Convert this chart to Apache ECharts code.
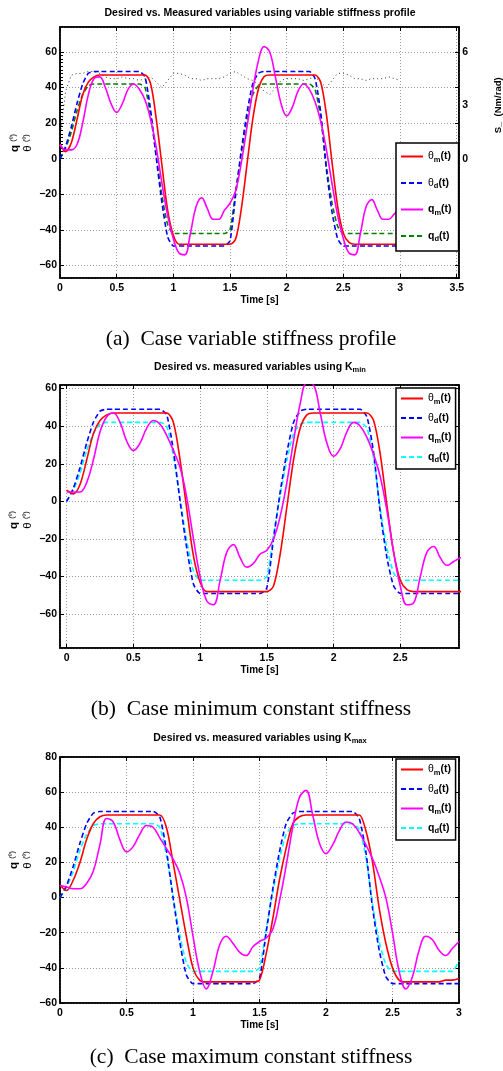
<!DOCTYPE html>
<html><head><meta charset="utf-8">
<script src="https://cdn.jsdelivr.net/npm/echarts@6/dist/echarts.min.js"></script>
<style>html,body{margin:0;padding:0;background:#fff}#c{width:503px;height:1071px}</style>
</head><body><div id="c"></div>
<script>
// time base (s)
const T = [0,0.05,0.1,0.15,0.2,0.25,0.3,0.35,0.4,0.45,0.5,0.55,0.6,0.65,0.7,0.75,0.8,0.85,0.9,0.95,1,1.05,1.1,1.15,1.2,1.25,1.3,1.35,1.4,1.45,1.5,1.55,1.6,1.65,1.7,1.75,1.8,1.85,1.9,1.95,2,2.05,2.1,2.15,2.2,2.25,2.3,2.35,2.4,2.45,2.5,2.55,2.6,2.65,2.7,2.75,2.8,2.85,2.9,2.95,3];

// (a) variable stiffness profile
const A_thetaM = [8,4,9,22,36,43,46,47,47,47, 47,47,47,47,47,47,42,22,-4,-29, -43,-48,-48,-48,-48,-48,-48,-48,-48,-48, -48,-45,-28,-3,22,39,46,47,47,47, 47,47,47,47,47,47,43,25,-2,-27, -42,-47,-48,-48,-48,-48,-48,-48,-48,-48, -48];
const A_thetaD = [0,7,18,31,42,48,49,49,49,49, 49,49,49,49,49,46,27,0,-25,-44, -49,-49,-49,-49,-49,-49,-49,-49,-49,-49, -46,-20,5,26,42,48,49,49,49,49, 49,49,49,49,49,45,26,-6,-30,-45, -49,-49,-49,-49,-49,-49,-49,-49,-49,-49, -49];
const A_qM = [8,5,5,8,20,36,45,46,40,31, 26,31,39,42,39,33,22,6,-14,-32, -45,-53,-54,-42,-27,-22,-28,-34,-34,-29, -25,-18,-2,18,38,55,63,60,46,31, 24,29,38,42,39,32,21,5,-14,-32, -45,-53,-54,-42,-27,-23,-29,-34,-34,-31, -28];
const A_qD = [0,6,15,27,36,41,42,42,42,42, 42,42,42,42,42,40,24,1,-21,-37, -42,-42,-42,-42,-42,-42,-42,-42,-42,-42, -40,-18,3,22,36,41,42,42,42,42, 42,42,42,42,42,39,23,-4,-25,-38, -42,-42,-42,-42,-42,-42,-42,-42,-42,-42, -42];
const A_S = [1.2,3.8,4.7,4.8,4.8,4.9,4.9,4.8,4.6,4.5, 4.5,4.6,4.5,4.5,4.4,4.5,4.6,4.3,4.0,4.4, 4.8,4.8,4.7,4.5,4.5,4.4,4.5,4.5,4.5,4.6, 4.8,4.9,4.7,4.5,4.4,4.2,3.8,3.6,4.0,4.4, 4.5,4.5,4.5,4.4,4.5,4.6,4.3,4.0,4.4,4.8, 4.8,4.7,4.5,4.5,4.4,4.5,4.5,4.5,4.6,4.5, 4.4];

// (b) minimum constant stiffness
const B_thetaM = [6,4,9,22,36,43,46,47,47,47, 47,47,47,47,47,47,42,22,-4,-29, -43,-48,-48,-48,-48,-48,-48,-48,-48,-48, -48,-45,-28,-3,22,39,46,47,47,47, 47,47,47,47,47,47,43,25,-2,-27, -42,-47,-48,-48,-48,-48,-48,-48,-48,-48, -47];
const B_thetaD = [0,7,18,31,42,48,49,49,49,49, 49,49,49,49,49,46,27,0,-25,-44, -49,-49,-49,-49,-49,-49,-49,-49,-49,-49, -46,-20,5,26,42,48,49,49,49,49, 49,49,49,49,49,45,26,-6,-30,-45, -49,-49,-49,-49,-49,-49,-49,-49,-49,-49, -49];
const B_qM = [5,5,5,10,22,37,45,47,42,32, 27,31,39,43,41,35,27,18,2,-20, -40,-53,-55,-42,-27,-23,-30,-35,-33,-28, -26,-20,-8,10,32,52,63,62,47,31, 24,28,37,42,40,34,25,13,-5,-27, -45,-55,-54,-40,-27,-24,-30,-34,-32,-30, -29];
const B_qD = [0,6,15,27,36,41,42,42,42,42, 42,42,42,42,42,40,24,1,-21,-37, -42,-42,-42,-42,-42,-42,-42,-42,-42,-42, -40,-18,3,22,36,41,42,42,42,42, 42,42,42,42,42,39,23,-4,-25,-38, -42,-42,-42,-42,-42,-42,-42,-42,-42,-42, -42];

// (c) maximum constant stiffness
const C_thetaM = [7,4,10,20,33,42,46,47,47,47, 47,47,47,47,47,47,40,20,-1,-22, -40,-47,-48,-48,-48,-48,-48,-48,-48,-48, -47,-32,-12,10,28,42,46,47,47,47, 47,47,47,47,47,47,38,20,-6,-26, -40,-47,-48,-48,-48,-48,-48,-48,-47,-47, -46];
const C_thetaD = [0,7,18,31,42,48,49,49,49,49, 49,49,49,49,49,46,27,0,-25,-44, -49,-49,-49,-49,-49,-49,-49,-49,-49,-49, -46,-20,5,26,42,48,49,49,49,49, 49,49,49,49,49,45,26,-6,-30,-45, -49,-49,-49,-49,-49,-49,-49,-49,-49,-49, -49];
const C_qM = [7,6,5,5,8,15,30,45,43,33, 26,29,36,41,40,34,28,22,14,0, -22,-42,-52,-42,-27,-22,-26,-31,-33,-28, -25,-23,-18,-2,18,40,57,61,47,31, 25,30,38,43,42,37,30,22,12,0, -20,-42,-52,-45,-30,-22,-24,-30,-33,-29, -25];
const C_qD = [0,6,15,27,36,41,42,42,42,42, 42,42,42,42,42,40,24,1,-21,-37, -42,-42,-42,-42,-42,-42,-42,-42,-42,-42, -40,-18,3,22,36,41,42,42,42,42, 42,42,42,42,42,39,23,-4,-25,-38, -42,-42,-42,-42,-42,-42,-42,-42,-42,-42, -36];

const TITLES = ['Desired vs. Measured variables using variable stiffness profile',
  'Desired vs. measured variables using {k|K}{ks|min}',
  'Desired vs. measured variables using {k|K}{ks|max}'];
const CAPTIONS = ['(a)  Case variable stiffness profile', '(b)  Case minimum constant stiffness', '(c)  Case maximum constant stiffness'];
const X_NAME = 'Time [s]';
const S_NAME = 'S_  (Nm/rad)';

const FONT = '"Liberation Sans", Arial, Helvetica, sans-serif';
const SERIF = '"Liberation Serif", "Times New Roman", serif';
const LEG = {
  thm: '{g|θ}{s|m}{n|(t)}', thd: '{g|θ}{s|d}{n|(t)}', qm: '{n|q}{s|m}{n|(t)}', qd: '{n|q}{s|d}{n|(t)}'
};
const legRich = {
  n: {fontFamily: FONT, fontWeight: 'bold', fontSize: 10.5, color: '#000', lineHeight: 14},
  g: {fontFamily: FONT, fontWeight: 'normal', fontSize: 10.5, color: '#000', lineHeight: 14},
  s: {fontFamily: FONT, fontWeight: 'bold', fontSize: 7.5, color: '#000', verticalAlign: 'bottom', lineHeight: 9}
};

const fmt = v => { if (Math.abs(v) < 1e-9) return '0'; return String(+v.toFixed(2)).replace('-', '−'); };
const splitStyle = {show: true, lineStyle: {type: [1, 2], color: '#9a9a9a', width: 1}};

function xMain(gi, min, max, extra) {
  return Object.assign({
    gridIndex: gi, type: 'value', min: min, max: max, position: 'bottom',
    axisLine: {show: true, onZero: false, lineStyle: {color: '#000', width: 1.5}},
    axisTick: {show: true, inside: true, length: 4, lineStyle: {color: '#000', width: 1}},
    axisLabel: {color: '#000', fontFamily: FONT, fontWeight: 'bold', fontSize: 10.5, margin: 5,
      showMinLabel: true, showMaxLabel: false, formatter: fmt},
    splitLine: splitStyle,
    name: X_NAME, nameLocation: 'middle', nameGap: 16,
    nameTextStyle: {color: '#000', fontFamily: FONT, fontWeight: 'bold', fontSize: 10}
  }, extra || {});
}
function xMirror(gi, min, max, extra) {
  return Object.assign({
    gridIndex: gi, type: 'value', min: min, max: max, position: 'top',
    axisLine: {show: true, onZero: false, lineStyle: {color: '#000', width: 1.5}},
    axisTick: {show: true, inside: true, length: 4, lineStyle: {color: '#000'}},
    axisLabel: {show: false}, splitLine: {show: false}
  }, extra || {});
}
function yMain(gi, min, max, extra) {
  return Object.assign({
    gridIndex: gi, type: 'value', min: min, max: max, position: 'left',
    axisLine: {show: true, onZero: false, lineStyle: {color: '#000', width: 1.5}},
    axisTick: {show: true, inside: true, length: 4, lineStyle: {color: '#000'}},
    axisLabel: {color: '#000', fontFamily: FONT, fontWeight: 'bold', fontSize: 10.5, margin: 3,
      showMinLabel: false, showMaxLabel: false, formatter: fmt},
    splitLine: splitStyle
  }, extra || {});
}
function yMirror(gi, min, max, extra) {
  return Object.assign({
    gridIndex: gi, type: 'value', min: min, max: max, position: 'right',
    axisLine: {show: true, onZero: false, lineStyle: {color: '#000', width: 1.5}},
    axisTick: {show: true, inside: true, length: 4, lineStyle: {color: '#000'}},
    axisLabel: {show: false}, splitLine: {show: false}
  }, extra || {});
}
function pairs(arr) { return T.map((t, i) => [t, arr[i]]); }
function ln(name, xi, yi, arr, color, dash, smooth) {
  return {
    name: name, type: 'line', xAxisIndex: xi, yAxisIndex: yi, data: pairs(arr),
    symbol: 'none', showSymbol: false, smooth: smooth, animation: false, clip: true,
    lineStyle: {color: color, width: 1.6, type: dash ? [5, 3] : 'solid'},
    itemStyle: {color: color}, emphasis: {disabled: true}
  };
}
function legend(prefix, left, top, gap, pad) {
  return {
    data: ['thm', 'thd', 'qm', 'qd'].map(k => prefix + k),
    orient: 'vertical', left: left, top: top, itemWidth: 22, itemHeight: 12, itemGap: gap,
    padding: pad, backgroundColor: '#fff', borderColor: '#000', borderWidth: 1.5, borderRadius: 0,
    selectedMode: false, formatter: n => LEG[n.slice(prefix.length)],
    itemStyle: {opacity: 0, borderWidth: 0},
    textStyle: {rich: legRich, fontFamily: FONT}
  };
}
const yNameRich = {
  b: {fontFamily: FONT, fontWeight: 'bold', fontSize: 11.5, color: '#000'},
  r: {fontFamily: FONT, fontWeight: 'normal', fontSize: 11.5, color: '#000'},
  p: {fontFamily: FONT, fontWeight: 'normal', fontSize: 7.5, color: '#000', verticalAlign: 'top'}
};
function yName(x, y, txt) {
  return {type: 'text', x: x, y: y, rotation: Math.PI / 2,
    style: {text: txt, rich: yNameRich, align: 'center', verticalAlign: 'middle', fill: '#000'}};
}

const titleRich = {
  k: {fontFamily: FONT, fontWeight: 'bold', fontSize: 10.5, color: '#000'},
  ks: {fontFamily: FONT, fontWeight: 'bold', fontSize: 7.5, color: '#000', verticalAlign: 'bottom', padding: [6, 0, 0, 0]}
};
function title(txt, left, top) {
  return {text: txt, left: left, top: top, textAlign: 'center', padding: 0,
    textStyle: {color: '#000', fontFamily: FONT, fontWeight: 'bold', fontSize: 10.5, rich: titleRich}};
}
function caption(txt, top) {
  return {text: txt, left: 251, top: top, textAlign: 'center', padding: 0,
    textStyle: {color: '#000', fontFamily: SERIF, fontWeight: 'normal', fontSize: 21.5}};
}

const option = {
  backgroundColor: '#fff',
  animation: false,
  title: [
    title(TITLES[0], 260, 8), title(TITLES[1], 260, 360), title(TITLES[2], 260, 731),
    caption(CAPTIONS[0], 328), caption(CAPTIONS[1], 698), caption(CAPTIONS[2], 1046)
  ],
  grid: [
    {left: 60, right: 44, top: 27, height: 251, show: true, borderColor: '#000', borderWidth: 1.5, outerBoundsMode: 'none', containLabel: false},
    {left: 60, right: 44, top: 385, height: 263, show: true, borderColor: '#000', borderWidth: 1.5, outerBoundsMode: 'none', containLabel: false},
    {left: 60, right: 44, top: 757, height: 246, show: true, borderColor: '#000', borderWidth: 1.5, outerBoundsMode: 'none', containLabel: false},
    {left: 60, right: 44, top: 52, height: 106.7, show: false, outerBoundsMode: 'none', containLabel: false}
  ],
  xAxis: [
    xMain(0, 0, 3.52, {interval: 0.5}), xMirror(0, 0, 3.52, {interval: 0.5}),
    xMain(1, -0.05, 2.94, {splitNumber: 6, axisLabel: {color: '#000', fontFamily: FONT, fontWeight: 'bold', fontSize: 10.5, margin: 5, showMinLabel: false, showMaxLabel: false, formatter: fmt}}),
    xMirror(1, -0.05, 2.94, {splitNumber: 6}),
    xMain(2, 0, 3, {interval: 0.5, axisLabel: {color: '#000', fontFamily: FONT, fontWeight: 'bold', fontSize: 10.5, margin: 5, showMaxLabel: true, formatter: fmt}}),
    xMirror(2, 0, 3, {interval: 0.5}),
    {gridIndex: 3, type: 'value', min: 0, max: 3.52, show: false}
  ],
  yAxis: [
    yMain(0, -67, 74, {splitNumber: 7}), yMirror(0, -67, 74, {splitNumber: 7}),
    yMain(1, -78, 61.9, {splitNumber: 7}), yMirror(1, -78, 61.9, {splitNumber: 7}),
    yMain(2, -60, 80, {interval: 20, axisLabel: {color: '#000', fontFamily: FONT, fontWeight: 'bold', fontSize: 10.5, margin: 3, showMinLabel: true, showMaxLabel: true, formatter: fmt}}),
    yMirror(2, -60, 80, {interval: 20}),
    {gridIndex: 3, type: 'value', position: 'right', offset: 13, min: 0, max: 6, interval: 3,
      axisLine: {show: true, lineStyle: {color: '#000', width: 1}},
      axisTick: {show: true, inside: false, length: 4, lineStyle: {color: '#000'}},
      minorTick: {show: true, splitNumber: 15, length: 3, lineStyle: {color: '#000'}},
      axisLabel: {inside: true, margin: 4, color: '#000', fontFamily: FONT, fontWeight: 'bold', fontSize: 10.5},
      splitLine: {show: false},
      name: S_NAME, nameLocation: 'middle', nameRotate: 90, nameGap: 21,
      nameTextStyle: {color: '#000', fontFamily: FONT, fontWeight: 'bold', fontSize: 9.5}}
  ],
  legend: [
    legend('a', 396, 143, 14, [8, 7, 8, 4]),
    legend('b', 396, 388, 7, [5, 4, 5, 4]),
    legend('c', 396, 759, 7, [5, 4, 5, 4])
  ],
  graphic: [
    yName(15, 143, '{b|q} {p|(º)}'), yName(28, 143, '{r|θ} {p|(º)}'),
    yName(14, 520, '{b|q} {p|(º)}'), yName(28, 520, '{r|θ} {p|(º)}'),
    yName(14, 860, '{b|q} {p|(º)}'), yName(28, 860, '{r|θ} {p|(º)}')
  ],
  series: [
    Object.assign(ln('aS', 6, 6, A_S, '#333', false, false), {lineStyle: {color: '#333', width: 1, type: [1, 3]}, z: 1}),
    ln('aqd', 0, 0, A_qD, '#008000', true, 0.2),
    ln('athd', 0, 0, A_thetaD, '#0000ff', true, 0.2),
    ln('athm', 0, 0, A_thetaM, '#ff0000', false, 0.3),
    ln('aqm', 0, 0, A_qM, '#ff00ff', false, 0.4),
    ln('bqd', 2, 2, B_qD, '#00ffff', true, 0.2),
    ln('bthd', 2, 2, B_thetaD, '#0000ff', true, 0.2),
    ln('bthm', 2, 2, B_thetaM, '#ff0000', false, 0.3),
    ln('bqm', 2, 2, B_qM, '#ff00ff', false, 0.4),
    ln('cqd', 4, 4, C_qD, '#00ffff', true, 0.2),
    ln('cthd', 4, 4, C_thetaD, '#0000ff', true, 0.2),
    ln('cthm', 4, 4, C_thetaM, '#ff0000', false, 0.3),
    ln('cqm', 4, 4, C_qM, '#ff00ff', false, 0.4)
  ]
};
const chart = echarts.init(document.getElementById('c'), null, {renderer: 'canvas'});
chart.setOption(option);
</script>
</body></html>
